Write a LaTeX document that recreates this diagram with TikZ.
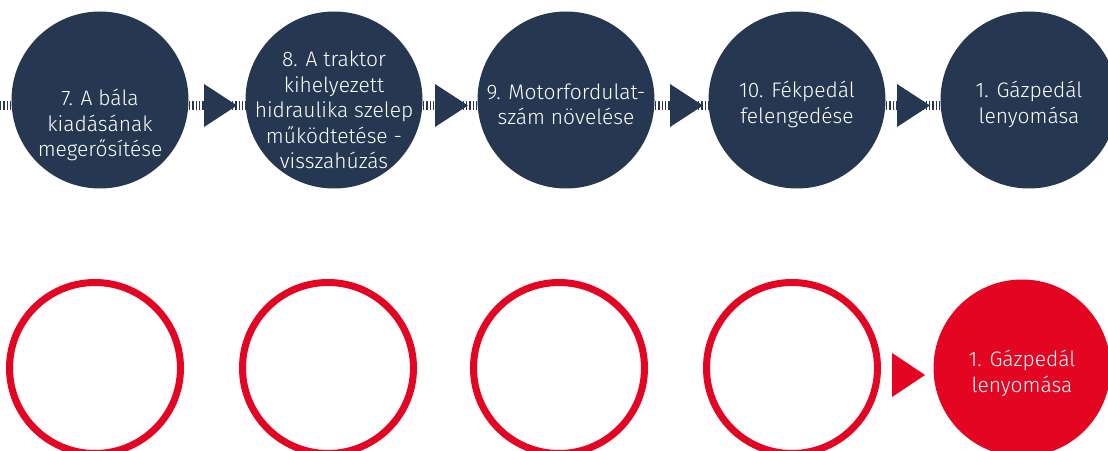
\documentclass[tikz,border=0pt]{standalone}
\usepackage{fontspec}
\setmainfont{Fira Sans}[UprightFont=* Light]
\usetikzlibrary{backgrounds}
\definecolor{navy}{HTML}{263851}
\definecolor{brandred}{HTML}{E30521}
\begin{document}
\begin{tikzpicture}[x=1pt,y=1pt,
  dot/.style={circle,fill=navy,minimum size=177pt,inner sep=0pt},
  ring/.style={circle,draw=brandred,line width=7pt,minimum size=171pt,inner sep=0pt},
  redfill/.style={circle,fill=brandred,minimum size=177pt,inner sep=0pt},
  lbl/.style={text=white,align=center,inner sep=0pt,font=\fontsize{21}{25.5}\selectfont},
  dashline/.style={navy,line width=9pt,dash pattern=on 1.3pt off 2pt},
  tri/.style={fill=navy},
  redtri/.style={fill=brandred}]
\useasboundingbox (0,0) rectangle (1108,450);
% top row
\node[dot] (c1) at (100,350) {};
\node[dot] (c2) at (334,350) {};
\node[dot] (c3) at (566,350) {};
\node[dot] (c4) at (797,350) {};
\node[dot] (c5) at (1029,350) {};
\coordinate (lstart) at (0,344);
\begin{pgfonlayer}{background}
  \draw[dashline] (lstart) -- (c1.center |- lstart);
  \draw[dashline] (c1.center |- lstart) -- (c2.center |- lstart);
  \draw[dashline] (c2.center |- lstart) -- (c3.center |- lstart);
  \draw[dashline] (c3.center |- lstart) -- (c4.center |- lstart);
  \draw[dashline] (c4.center |- lstart) -- (c5.center |- lstart);
\end{pgfonlayer}
\foreach \x in {204,435,670,897}{
  \fill[tri] (\x,366) -- (\x+33,344.5) -- (\x,323) -- cycle;
}
\node[lbl] (t1) at (100,325) {7. A bála\\kiadásának\\megerősítése};
\node[lbl] (t2) at (334,340) {8. A traktor\\kihelyezett\\hidraulika szelep\\működtetése -\\visszahúzás};
\node[lbl] (t3) at (566,345.5) {9. Motorfordulat-\\szám növelése};
\node[lbl] (t4) at (797,345.5) {10. Fékpedál\\felengedése};
\node[lbl] (t5) at (1029,345.5) {1. Gázpedál\\lenyomása};
% bottom row
\node[ring] (r1) at (95,82) {};
\node[ring] (r2) at (328,82) {};
\node[ring] (r3) at (559,82) {};
\node[ring] (r4) at (792,82) {};
\node[redfill] (r5) at (1022,82) {};
\fill[redtri] (892,97) -- (925,75) -- (892,53) -- cycle;
\node[lbl] (rt5) at (1022,76.5) {1. Gázpedál\\lenyomása};
\end{tikzpicture}
\end{document}
